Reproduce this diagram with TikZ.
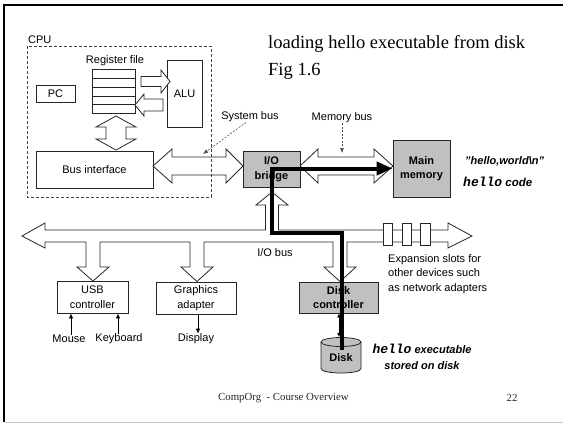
\documentclass[tikz,border=0pt]{standalone}
\usepackage{fontspec}
\setmainfont{Liberation Serif}
\setsansfont{Liberation Sans}
\setmonofont{Liberation Mono}
\usetikzlibrary{arrows.meta}
\definecolor{boxgray}{RGB}{192,192,192}
\begin{document}
\begin{tikzpicture}[x=1pt,y=-1pt,
  lbl/.style={font=\sffamily\fontsize{11}{14.5}\selectfont, inner sep=0pt, align=center},
  blbl/.style={font=\sffamily\bfseries\fontsize{11}{14.5}\selectfont, inner sep=0pt, align=center},
  bilbl/.style={font=\sffamily\bfseries\itshape\fontsize{11}{16}\selectfont, inner sep=0pt, align=center},
  wbox/.style={draw=black!85, line width=0.8pt, fill=white},
  gbox/.style={draw=black!85, line width=0.8pt, fill=boxgray},
  hollow/.style={draw=black!85, line width=0.8pt, fill=white, line join=miter},
  thinarrow/.style={line width=0.8pt, -{Latex[length=5pt,width=4.5pt]}},
  dasharrow/.style={black!70, line width=0.6pt, dash pattern=on 2pt off 1.5pt, -{Latex[length=5pt,width=4pt]}},
  serif/.style={font=\rmfamily, inner sep=0pt}
  ]
\useasboundingbox (0,0) rectangle (563,424);
% slide frame
\draw[line width=2pt] (4,422) -- (4,5) -- (563,5);
\draw[black!22, line width=1.5pt] (5,422.5) -- (563,422.5);

% title
\node[serif, font=\rmfamily\fontsize{18.5}{22}\selectfont, anchor=base west] (title) at (268,48) {loading hello executable from disk};
\node[serif, font=\rmfamily\fontsize{18.5}{22}\selectfont, anchor=base west] (fig) at (268,75) {Fig 1.6};

% CPU
\node[lbl, anchor=base west] (cpulbl) at (28,43) {CPU};
\node[lbl] (reglbl) at (115,61) {Register file};
\node[wbox, inner sep=0pt, minimum width=43pt, minimum height=44pt] (reg) at (113.5,91) {};
\foreach \yy in {78,87,96,104.5} \draw[black!85, line width=0.8pt] (92,\yy) -- (135,\yy);
\node[wbox, lbl, minimum width=39pt, minimum height=17pt] (pc) at (55.5,93.5) {PC};
\node[wbox, lbl, minimum width=35pt, minimum height=67pt] (alu) at (184.5,93.5) {ALU};
\node[wbox, lbl, minimum width=117pt, minimum height=37pt] (busif) at (94.5,169.5) {Bus interface};

% internal CPU arrows
\draw[hollow] (141,76.5) -- (161,76.5) -- (161,70) -- (170,81.5) -- (161,93) -- (161,86.5) -- (141,86.5) -- cycle;
\draw[hollow] (163,99) -- (144,99) -- (144,94) -- (135,105) -- (144,116) -- (144,111) -- (163,111) -- cycle;
\draw[hollow] (116,116) -- (136,127) -- (126,127) -- (126,139) -- (136,139) -- (116,150) -- (96,139) -- (106,139) -- (106,127) -- (96,127) -- cycle;

% system bus and memory bus
\draw[hollow] (153,166) -- (172,149) -- (172,157) -- (226,157) -- (226,149) -- (243,166) -- (226,183) -- (226,175) -- (172,175) -- (172,183) -- cycle;
\draw[hollow] (300,166) -- (318,149) -- (318,157) -- (374,157) -- (374,149) -- (393,166) -- (374,183) -- (374,175) -- (318,175) -- (318,183) -- cycle;

\draw[black!75, line width=0.8pt, dash pattern=on 3pt off 2pt] (27,46) rectangle (211,197);

\node[gbox, blbl, minimum width=57pt, minimum height=36pt] (bridge) at (271.5,169) {I/O\\bridge};
\node[gbox, blbl, minimum width=57pt, minimum height=57pt] (mem) at (421.5,168.5) {Main\\memory};

\node[lbl] (sblbl) at (250,117) {System bus};
\coordinate (sbtip) at (203,154);
\draw[dasharrow] ([xshift=-4pt]sblbl.south) -- (sbtip);
\node[lbl] (mblbl) at (342,118) {Memory bus};
\coordinate (mbtip) at (342,153);
\draw[dasharrow] (mblbl.south) -- (mbtip);

\node[bilbl, anchor=west] (hw) at (465,161) {\symbol{34}hello,world\textbackslash n\symbol{34}};
\node[bilbl, anchor=west, font=\sffamily\bfseries\itshape\fontsize{11.5}{14}\selectfont] (hc) at (463,182) {{\ttfamily\bfseries\itshape\fontsize{13}{14}\selectfont hello} code};

% I/O bus with branches
\draw[hollow] (22,236) -- (45,223) -- (45,230) -- (265.5,230) -- (265.5,205) -- (256,205) -- (272,192) -- (288,205) -- (278.5,205) -- (278.5,230)
  -- (448,230) -- (448,223) -- (472,236) -- (448,248) -- (448,242)
  -- (347,242) -- (347,267) -- (356,267) -- (340,281.5) -- (324,267) -- (333,267) -- (333,242)
  -- (204,242) -- (204,267) -- (213,267) -- (197,281.5) -- (181,267) -- (190,267) -- (190,242)
  -- (100,242) -- (100,267) -- (109,267) -- (93,281) -- (77,267) -- (86,267) -- (86,242)
  -- (45,242) -- (45,248) -- cycle;
\foreach \xa/\xb in {383/392, 402/411, 420/430} \draw[wbox] (\xa,223) rectangle (\xb,245);
\node[lbl] (ioblbl) at (275,253) {I/O bus};
\node[lbl, align=left, anchor=west] (exp) at (388,274) {Expansion slots for\\other devices such\\as network adapters};

% I/O devices
\node[wbox, lbl, minimum width=71pt, minimum height=32pt] (usb) at (92.5,297) {USB\\controller};
\node[wbox, lbl, minimum width=80pt, minimum height=32pt] (gfx) at (196,298) {Graphics\\adapter};
\node[gbox, blbl, minimum width=79pt, minimum height=31pt] (dc) at (338.5,297.5) {Disk\\controller};

\node[lbl] (mouse) at (69,339) {Mouse};
\node[lbl] (kb) at (119,339) {Keyboard};
\node[lbl] (disp) at (196,339) {Display};
\draw[thinarrow] ([xshift=2pt]mouse.north) -- ([xshift=2pt]mouse.north |- usb.south);
\draw[thinarrow] ([xshift=-1pt]kb.north) -- ([xshift=-1pt]kb.north |- usb.south);
\draw[thinarrow] ([xshift=2pt]disp.north |- gfx.south) -- ([xshift=2pt]disp.north);

% disk
\fill[boxgray] (321,342) -- (321,368.5) .. controls (321,374.5) and (361,374.5) .. (361,368.5) -- (361,342) -- cycle;
\draw[black!85, line width=0.8pt] (321,342) -- (321,368.5) .. controls (321,374.5) and (361,374.5) .. (361,368.5) -- (361,342);
\draw[black!85, line width=0.8pt, fill=boxgray] (341,342) ellipse [x radius=20pt, y radius=4.5pt];
\node[blbl] (disk) at (341,358) {Disk};
\coordinate (disktop) at (339,337);
\draw[line width=0.8pt, {Latex[length=4pt,width=4pt]}-{Latex[length=4pt,width=4pt]}] ([xshift=0.5pt]dc.south) -- (disktop);

\node[bilbl] (hx) at (422,357) {{\ttfamily\bfseries\itshape\fontsize{13}{14}\selectfont hello} executable\\stored on disk};

% data path
\coordinate (pstart) at (342,350);
\draw[line width=4pt, line join=miter, -{Triangle[length=16pt,width=13pt]}] (pstart) -- (342,233) -- (272,233) -- (272,168.5) -- (mem.west);

% footer
\node[serif, font=\rmfamily\fontsize{10.8}{13}\selectfont, text=black!85] (foot) at (283.5,398) {CompOrg\ \ - Course Overview};
\node[serif, font=\rmfamily\fontsize{10.8}{13}\selectfont, text=black!85] (pg) at (512,398) {22};
\end{tikzpicture}
\end{document}
